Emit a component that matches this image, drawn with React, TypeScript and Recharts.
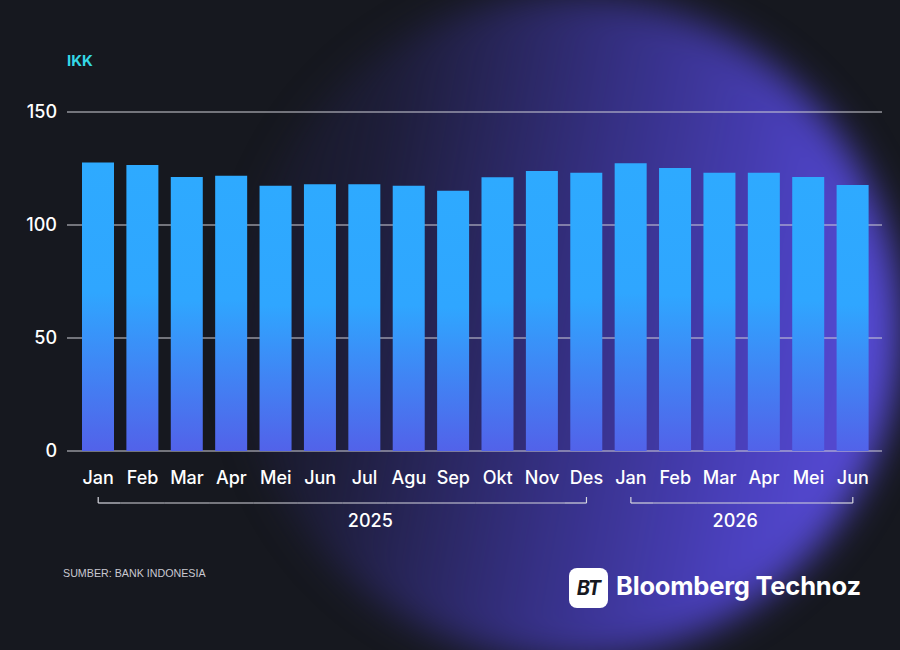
import { BarChart, Bar, XAxis, YAxis, CartesianGrid } from 'recharts';

const months = ['Jan', 'Feb', 'Mar', 'Apr', 'Mei', 'Jun', 'Jul', 'Agu', 'Sep', 'Okt', 'Nov', 'Des', 'Jan', 'Feb', 'Mar', 'Apr', 'Mei', 'Jun'];
const years = ['2025', '2025', '2025', '2025', '2025', '2025', '2025', '2025', '2025', '2025', '2025', '2025', '2026', '2026', '2026', '2026', '2026', '2026'];
const ikkValues = [127.7, 126.5, 121.2, 121.8, 117.4, 118.0, 118.0, 117.4, 115.2, 121.1, 123.9, 123.1, 127.3, 125.2, 123.1, 123.1, 121.2, 117.7];
const yTicks = [0, 50, 100, 150];

// first/last month index of each year bracket, and where the year label sits (in bar units)
const yearGroups = [
  { year: '2025', from: 0, to: 11, labelAt: 6.13 },
  { year: '2026', from: 12, to: 17, labelAt: 14.35 },
];

const data = months.map((m, i) => ({ key: `${m} ${years[i]}`, month: m, year: years[i], ikk: ikkValues[i] }));

const FONT = 'Inter, "Noto Sans", sans-serif';
const SMALL_FONT = '"Liberation Sans", Arial, sans-serif';

function MonthTick(props: any) {
  const { x, y, payload } = props;
  const i: number = payload.index ?? props.index;
  const half: number = payload.offset || 22.2;
  const group = yearGroups.find(g => i >= g.from && i <= g.to);
  const lineY = y + 52;
  return (
    <g>
      <text x={x} y={y + 33} textAnchor="middle" fill="#ffffff" fontSize={18} fontWeight={500} fontFamily={FONT}>
        {data[i]?.month}
      </text>
      {group && (
        <g stroke="#d6d6de" strokeWidth={1.2}>
          <line x1={i === group.from ? x : x - half} x2={i === group.to ? x : x + half} y1={lineY} y2={lineY} />
          {(i === group.from || i === group.to) && <line x1={x} x2={x} y1={lineY - 6} y2={lineY} />}
        </g>
      )}
      {group && Math.floor(group.labelAt) === i && (
        <text
          x={x + (group.labelAt - i) * half * 2}
          y={y + 76}
          textAnchor="middle"
          fill="#ffffff"
          fontSize={18}
          fontWeight={500}
          fontFamily={FONT}
        >
          {group.year}
        </text>
      )}
    </g>
  );
}

export default function App() {
  return (
    <div style={{ position: 'absolute', left: 0, top: 0, width: 900, height: 650, background: '#16181f', overflow: 'hidden' }}>
      <div
        style={{
          position: 'absolute',
          left: 235,
          top: -5,
          width: 665,
          height: 665,
          borderRadius: '50%',
          background:
            'linear-gradient(100deg, rgba(40,36,100,0) 0%, rgba(44,40,105,0.35) 22%, rgba(56,50,140,0.9) 50%, #4a40bc 75%, #5e52e6 100%)',
          filter: 'blur(18px)',
        }}
      />
      <div style={{ position: 'absolute', left: 0, top: 0 }}>
        <BarChart width={900} height={650} data={data} margin={{ top: 112, right: 18, left: 7, bottom: 169 }}>
          <defs>
            <linearGradient id="barFill" x1="0" y1="0" x2="0" y2="1">
              <stop offset="0" stopColor="#2eaaff" />
              <stop offset="0.45" stopColor="#2fa6ff" />
              <stop offset="1" stopColor="#5262e9" />
            </linearGradient>
          </defs>
          <CartesianGrid vertical={false} stroke="#cfcfd8" strokeWidth={1.2} />
          <XAxis
            dataKey="key"
            axisLine={false}
            tickLine={false}
            tickSize={0}
            tickMargin={0}
            height={30}
            padding={{ left: 9, right: 7 }}
            interval={0}
            tick={<MonthTick />}
          />
          <YAxis
            domain={[0, 150]}
            ticks={yTicks}
            width={60}
            axisLine={false}
            tickLine={false}
            tickMargin={4}
            tick={{ fill: '#ffffff', fontSize: 18, fontWeight: 500, fontFamily: FONT }}
          />
          <Bar dataKey="ikk" fill="url(#barFill)" barSize={32} isAnimationActive={false} />
        </BarChart>
      </div>
      <div style={{ position: 'absolute', left: 67, top: 51, color: '#34d8e6', fontFamily: FONT, fontWeight: 700, fontSize: 15 }}>
        IKK
      </div>
      <div style={{ position: 'absolute', left: 63, top: 567, color: '#c9c9d1', fontFamily: SMALL_FONT, fontSize: 10.7 }}>
        SUMBER: BANK INDONESIA
      </div>
      <div
        style={{
          position: 'absolute',
          left: 569,
          top: 568,
          width: 39,
          height: 40,
          borderRadius: 8,
          background: '#ffffff',
          display: 'flex',
          alignItems: 'center',
          justifyContent: 'center',
          color: '#16181f',
          fontFamily: FONT,
          fontWeight: 700,
          fontStyle: 'italic',
          fontSize: 20,
          letterSpacing: -1,
        }}
      >
        BT
      </div>
      <div
        style={{
          position: 'absolute',
          left: 616,
          top: 570,
          color: '#ffffff',
          fontFamily: FONT,
          fontWeight: 700,
          fontSize: 25.5,
          letterSpacing: -0.2,
        }}
      >
        Bloomberg Technoz
      </div>
    </div>
  );
}
